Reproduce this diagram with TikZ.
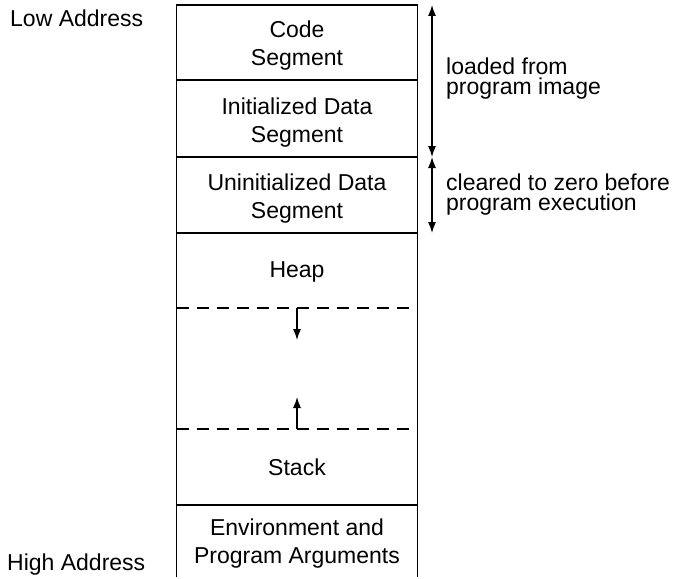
\documentclass[tikz,border=0pt]{standalone}
\usepackage{fontspec}
\setmainfont{Liberation Sans}
\usetikzlibrary{arrows.meta}
\begin{document}
\begin{tikzpicture}[x=1pt,y=-1pt,
  seg/.style={line width=1.2pt},
  sep/.style={line width=1.2pt, dash pattern=on 12pt off 8pt},
  lbl/.style={inner sep=0pt, anchor=base, align=center, font=\fontsize{23}{28}\selectfont},
  rlbl/.style={inner sep=0pt, anchor=base west, align=left, font=\fontsize{23}{20}\selectfont},
  tip/.style={line width=1.2pt, {Latex[length=11pt,width=8pt]}-{Latex[length=11pt,width=8pt]}},
  growarrow/.style={line width=1.2pt, -{Latex[length=11pt,width=8pt]}}]
\useasboundingbox (0,0) rectangle (682,578);
% box corners
\coordinate (tl) at (176.5,5);
\coordinate (tr) at (417.5,5);
\coordinate (bl) at (176.5,577);
\coordinate (br) at (417.5,577);
\coordinate (d1l) at (176.5,80);  \coordinate (d1r) at (417.5,80);
\coordinate (d2l) at (176.5,157); \coordinate (d2r) at (417.5,157);
\coordinate (d3l) at (176.5,233); \coordinate (d3r) at (417.5,233);
\coordinate (d4l) at (176.5,505); \coordinate (d4r) at (417.5,505);
\draw[seg] (bl) -- (tl) -- (tr) -- (br);
\draw[seg] (d1l) -- (d1r);
\draw[seg] (d2l) -- (d2r);
\draw[seg] (d3l) -- (d3r);
\draw[seg] (d4l) -- (d4r);
% dashed limits
\coordinate (h1l) at (176.5,308); \coordinate (h1r) at (410,308);
\coordinate (s1l) at (176.5,429); \coordinate (s1r) at (410,429);
\draw[sep] (h1l) -- (h1r);
\draw[sep] (s1l) -- (s1r);
\coordinate (ha) at (297,308); \coordinate (hb) at (297,340);
\coordinate (sa) at (297,429); \coordinate (sb) at (297,397);
\draw[growarrow] (ha) -- (hb);
\draw[growarrow] (sa) -- (sb);
% texts (base = baseline of last line)
\node[lbl] (code) at (297,65) {Code\\Segment};
\node[lbl] (init) at (297,142) {Initialized Data\\Segment};
\node[lbl] (uninit) at (297,218) {Uninitialized Data\\Segment};
\node[lbl] (heap) at (297,277) {Heap};
\node[lbl] (stack) at (297,475) {Stack};
\node[lbl] (env) at (297,563) {Environment and\\Program Arguments};
\node[rlbl] (low) at (10,27) {Low Address};
\node[rlbl] (high) at (7,570) {High Address};
\node[rlbl] (loaded) at (446,94) {loaded from\\program image};
\node[rlbl] (cleared) at (446,210) {cleared to zero before\\program execution};
% side arrows
\coordinate (a1) at (432,5);
\coordinate (a2) at (432,157);
\coordinate (a3) at (432,233);
\draw[tip] (a1) -- (a2);
\draw[tip] (a2) -- (a3);
\end{tikzpicture}
\end{document}
